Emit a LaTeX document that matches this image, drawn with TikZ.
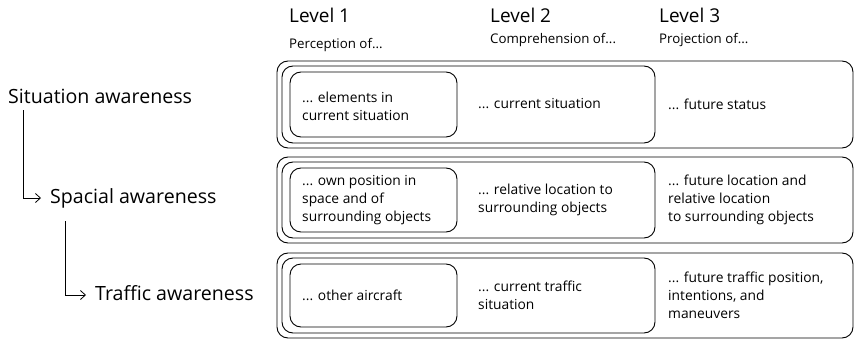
\documentclass[tikz,border=0pt]{standalone}
\usepackage{fontspec}
\setmainfont{Open Sans}
\usetikzlibrary{arrows.meta}
\begin{document}
\begin{tikzpicture}[x=1pt,y=-1pt,
  box/.style={draw, line width=0.9pt, rounded corners=11pt, inner sep=0, outer sep=0},
  txt/.style={anchor=west, inner sep=0, align=left, font=\fontsize{13.8}{18}\selectfont},
  head/.style={anchor=base west, inner sep=0, font=\fontsize{19}{21}\selectfont},
  sub/.style={anchor=base west, inner sep=0, font=\fontsize{13.3}{15}\selectfont},
  side/.style={anchor=base west, inner sep=0, font=\fontsize{19.6}{22}\selectfont},
  arr/.style={line width=0.8pt, -{Straight Barb[length=5pt,width=9pt,line width=0.8pt]}}
]
\useasboundingbox (0,0) rectangle (855,340);

% headers
\node[head] (lv1) at (289,23) {Level 1};
\node[sub]  (pr1) at (289,48) {Perception of...};
\node[head] (lv2) at (490,23) {Level 2};
\node[sub]  (pr2) at (490,43) {Comprehension of...};
\node[head] (lv3) at (659,23) {Level 3};
\node[sub]  (pr3) at (659,43) {Projection of...};

% left labels
\node[side] (sit) at (8,103) {Situation awareness};
\node[side] (spa) at (50,203) {Spacial awareness};
\node[side] (tra) at (95,300) {Traffic awareness};

\draw[arr] ([xshift=15pt,yshift=-7pt]sit.base west) |- ([xshift=-9pt,yshift=5pt]spa.base west);
\draw[arr] ([xshift=15pt,yshift=-18pt]spa.base west) |- ([xshift=-9pt,yshift=5pt]tra.base west);

% row 1
\node[box, minimum width=576pt, minimum height=87pt] (o1) at (565,104.5) {};
\node[box, minimum width=373pt, minimum height=77pt] (m1) at (468.5,104.5) {};
\node[box, minimum width=167pt, minimum height=65pt] (i1) at (373.5,104.5) {};
\node[txt] (t11) at (302,106) {... elements in\\current situation};
\node[txt] (t12) at (478,104) {... current situation};
\node[txt] (t13) at (668,104) {... future status};

% row 2
\node[box, minimum width=576pt, minimum height=86pt] (o2) at (565,200) {};
\node[box, minimum width=373pt, minimum height=76pt] (m2) at (468.5,200) {};
\node[box, minimum width=167pt, minimum height=64pt] (i2) at (373.5,200) {};
\node[txt] (t21) at (302,200) {... own position in\\space and of\\surrounding objects};
\node[txt] (t22) at (478,200) {... relative location to\\surrounding objects};
\node[txt] (t23) at (668,200) {... future location and\\relative location\\to surrounding objects};

% row 3
\node[box, minimum width=576pt, minimum height=85pt] (o3) at (565,295.5) {};
\node[box, minimum width=373pt, minimum height=75pt] (m3) at (468.5,295.5) {};
\node[box, minimum width=167pt, minimum height=63pt] (i3) at (373.5,295.5) {};
\node[txt] (t31) at (302,295.5) {... other aircraft};
\node[txt] (t32) at (478,295.5) {... current traffic\\situation};
\node[txt] (t33) at (668,295.5) {... future traffic position,\\intentions, and\\maneuvers};
\end{tikzpicture}
\end{document}
